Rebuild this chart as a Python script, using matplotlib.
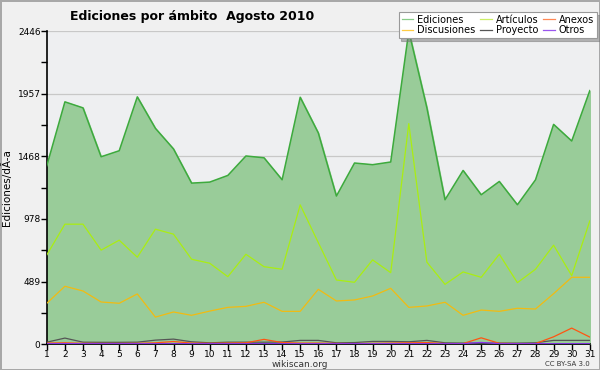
import matplotlib.pyplot as plt
import numpy as np

dias = list(range(1, 32))

ediciones = [1394, 1893, 1846, 1464, 1511, 1932, 1686, 1525, 1258, 1266, 1318,
             1470, 1456, 1284, 1929, 1650, 1157, 1415, 1402, 1423, 2446, 1846,
             1128, 1357, 1167, 1271, 1089, 1284, 1717, 1587, 1981]
articulos = [697, 937, 937, 734, 812, 679, 898, 859, 663, 632, 527,
             702, 605, 585, 1088, 793, 501, 483, 658, 558, 1723, 640,
             467, 564, 522, 702, 480, 585, 773, 535, 963]
discusiones = [319, 452, 415, 329, 319, 392, 211, 251, 225, 258, 287,
               295, 327, 256, 256, 428, 337, 345, 376, 436, 287, 298,
               327, 225, 266, 256, 280, 274, 394, 522, 522]
anexos = [8, 10, 6, 5, 5, 6, 10, 20, 8, 6, 8,
          10, 37, 12, 8, 8, 5, 4, 6, 8, 10, 12,
          4, 4, 49, 6, 4, 4, 57, 125, 55]
proyecto = [15, 47, 15, 14, 14, 15, 31, 39, 18, 10, 15,
            15, 15, 16, 29, 29, 10, 12, 21, 21, 18, 29,
            10, 8, 8, 8, 8, 10, 29, 29, 29]
otros = [3, 4, 3, 3, 3, 3, 3, 3, 3, 3, 3,
         3, 3, 3, 3, 3, 3, 3, 3, 3, 3, 3,
         3, 3, 13, 3, 3, 3, 3, 3, 3]

ymax = 2446
yticks = [0, 489, 978, 1468, 1957, 2446]

fig = plt.figure(figsize=(6, 3.7), dpi=100, facecolor='#f0f0f0',
                 edgecolor='#a8a8a8', linewidth=2)
ax = fig.add_axes([0.078, 0.070, 0.905, 0.846])
ax.set_facecolor('#eeeff1')

ax.fill_between(dias, ediciones, color='#99cc99', zorder=2)
ax.plot(dias, ediciones, color='#3daa3d', lw=1.1, zorder=3)
ax.plot(dias, articulos, color='#aaee11', lw=0.9, zorder=4)
ax.plot(dias, discusiones, color='#f2bb11', lw=0.9, zorder=4)
ax.plot(dias, proyecto, color='#555555', lw=0.9, zorder=4)
ax.plot(dias, anexos, color='#ff5511', lw=0.9, zorder=5)
ax.plot(dias, otros, color='#8833ee', lw=0.9, zorder=5)

ax.set_xlim(1, 31)
ax.set_ylim(0, ymax)
ax.set_xticks(dias)
ax.set_yticks(yticks)
ax.set_yticks([v + 244.6 for v in yticks[:-1]], minor=True)
ax.grid(axis='y', which='major', color='#c8c8c8', lw=0.9, zorder=2.5)
ax.tick_params(axis='both', which='major', labelsize=6.5, length=4,
               width=1, pad=0.5)
ax.tick_params(axis='y', which='minor', length=4, width=1)
for s in ['top', 'right']:
    ax.spines[s].set_visible(False)
for s in ['left', 'bottom']:
    ax.spines[s].set_linewidth(1.2)
ax.set_ylabel('Ediciones/dÃ-a', fontsize=7.5, labelpad=4)

fig.text(0.32, 0.955, 'Ediciones por ámbito  Agosto 2010', ha='center',
         va='center', fontsize=9, fontweight='bold')
fig.text(0.5, 0.016, 'wikiscan.org', ha='center', va='center', fontsize=6.5,
         color='#333333')
fig.text(0.983, 0.017, 'CC BY-SA 3.0', ha='right', va='center', fontsize=5,
         color='#333333')

etiquetas = ['Ediciones', 'Discusiones', 'Artículos', 'Proyecto', 'Anexos', 'Otros']
colores = ['#88cc88', '#ffcc44', '#ccee66', '#555555', '#ff8855', '#9955ee']
handles = [plt.Line2D([], [], color=c, lw=0.9) for c in colores]
leg = fig.legend(handles, etiquetas, ncol=3, loc='upper right',
                 bbox_to_anchor=(0.995, 0.968), fontsize=7, frameon=True,
                 fancybox=False, shadow={'color': '#777777'},
                 edgecolor='#999999',
                 framealpha=1, handlelength=1.2, handletextpad=0.4,
                 columnspacing=0.5, labelspacing=0.05, borderpad=0.3,
                 borderaxespad=0)
leg.get_frame().set_linewidth(0.8)

fig.savefig('out.png', dpi=100, facecolor=fig.get_facecolor(),
            edgecolor=fig.get_edgecolor())
